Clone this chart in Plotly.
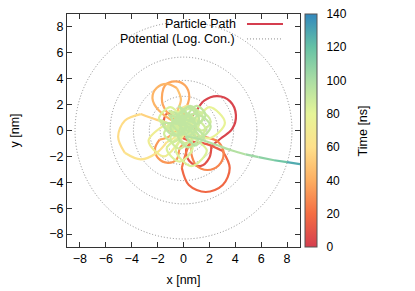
import plotly.graph_objects as go

# ---------------- data ----------------
palette = ["#D53E4F", "#F46D43", "#FDAE61", "#FEE08B",
           "#E6F598", "#ABDDA4", "#66C2A5", "#3288BD"]
t_min, t_max = 0, 140
colorbar_ticks = [0, 20, 40, 60, 80, 100, 120, 140]
axis_ticks = [-8, -6, -4, -2, 0, 2, 4, 6, 8]
contour_r = [1.8, 2.64, 3.87, 5.67, 8.38]

path_x = [
    0.2, 0.9, 1.6, 2.6, 3.6, 4.05, 3.75, 2.9, 2.15, 2.0, 1.3, 0.45, 0.2, 0.6,
    0.3, -0.5, -1.3, -1.5,
    -0.9, 0.5, 1.8, 3.03, 3.57, 3.03, 1.72, 0.41, -0.13, 0.2, 0.7,
    0.9, 0.2, -0.6, -0.3,
    0.8, 1.85, 2.73, 3.1, 2.73, 1.85, 0.97, 0.6, 0.5,
    -0.25, -0.5, -1.2, -1.95, -2.2, -1.85, -1.1,
    -0.3, -1.2, -1.65, -1.43, -0.65, 0.13, 0.45, 0.1, -0.3,
    -1.9, -2.4, -2.08, -1.3, -0.52, -0.2, -0.5, -0.4,
    -0.9, -2.06, -3.3, -4.54, -5.05, -4.54, -3.3, -2.06, -1.3, -0.5,
    -0.6, 0.3, 1.2, 0.3,
    -0.3, -1.5, -2.7, -1.5, -0.4,
    0.8, 2.0, 3.2, 2.0, 0.9,
    0.6, 1.8, 0.6, -0.6, -0.2,
    -1.0, -1.9, -1.0, -0.1, 0.2,
    0.7, -0.3, -1.3, -0.3,
    0.5, 1.2, 0.5, -0.2,
    -0.5, 0.2, -0.5, -1.2,
    0.2, 0.9, 0.2, -0.5,
    1.0, 1.7, 1.0, 0.3,
    -0.2, 0.5, -0.2, -0.9,
    0.8, 1.5, 0.8, 0.1,
    -0.8, -0.1, -0.8, -1.5,
    1.4, 2.1, 1.4, 0.7,
    -1.1, -0.4, -1.1, -1.8,
    -0.3, 0.4, -0.3, -1.0,
    0.0, 0.9, 0.0, -0.9,
    0.4, 1.0, 0.4, -0.2,
    -0.4, 0.2, -0.4, -1.0,
    0.5, 1.1, 0.5, -0.1,
    0.3, 1.2, 0.3, -0.6,
    1.2, 2.1, 1.2, 0.3,
    -0.7, 0.2, -0.7, -1.6,
    0.4, 1.2, 0.4, -0.4,
    1.0, 1.7, 1.0, 0.3,
    -0.4, 0.3, -0.4, -1.1,
    0.9, 1.6, 0.9, 0.2,
    1.5, 2.5, 3.75, 4.8, 5.8, 7.0, 8.0, 9.0, 10.0,
]
path_y = [
    0.6, 1.4, 2.3, 2.65, 2.25, 1.2, 0.1, -0.6, -1.2, -2.1, -2.75, -2.35, -1.5, -0.7,
    0.3, 1.1, 1.3, 0.5,
    -0.1, -0.8, -1.05, -1.59, -2.9, -4.21, -4.75, -4.21, -2.9, -1.7, -0.5,
    0.5, 1.2, 0.6, -0.3,
    -0.5, -0.55, -0.92, -1.8, -2.68, -3.05, -2.68, -1.8, -0.9,
    -1.3, -2.2, -2.5, -2.15, -1.4, -0.7, -0.45,
    0.4, 1.3, 2.2, 3.48, 3.8, 3.48, 2.6, 1.5, 0.6,
    1.55, 2.5, 3.28, 3.6, 3.28, 2.4, 1.3, 0.4,
    0.5, 0.82, 1.27, 0.76, -0.48, -1.72, -2.23, -1.72, -0.9, -0.3,
    1.0, 1.9, 1.0, 0.1,
    -0.8, -2.0, -0.8, 0.4, 0.0,
    0.6, 1.8, 0.6, -0.6, -0.2,
    -0.35, -1.55, -2.75, -1.55, -0.5,
    0.0, 0.9, 1.8, 0.9, 0.2,
    -1.4, -2.4, -1.4, -0.4,
    1.2, 0.5, -0.2, 0.5,
    1.1, 0.4, -0.3, 0.4,
    0.4, -0.3, -1.0, -0.3,
    0.8, 0.1, -0.6, 0.1,
    1.6, 0.9, 0.2, 0.9,
    1.7, 1.0, 0.3, 1.0,
    0.5, -0.2, -0.9, -0.2,
    1.4, 0.7, 0.0, 0.7,
    1.5, 0.8, 0.1, 0.8,
    0.0, -0.7, -1.4, -0.7,
    1.5, 0.6, -0.3, 0.6,
    0.8, 0.2, -0.4, 0.2,
    0.8, 0.2, -0.4, 0.2,
    1.9, 1.3, 0.7, 1.3,
    1.8, 0.9, 0.0, 0.9,
    1.2, 0.3, -0.6, 0.3,
    1.4, 0.5, -0.4, 0.5,
    0.3, -0.5, -1.3, -0.5,
    1.9, 1.2, 0.5, 1.2,
    1.9, 1.2, 0.5, 1.2,
    0.2, -0.5, -1.2, -0.5,
    -0.75, -1.1, -1.55, -1.85, -2.06, -2.3, -2.45, -2.6, -2.72,
]
path_t = [
    0, 0.7, 1.4, 2.1, 2.8, 3.5, 4.2, 4.9, 5.6, 6.3, 7.0, 7.7, 8.4, 9.1,
    9.8, 10.5, 11.2, 11.9,
    12.6, 13.4, 14.2, 15.0, 16.0, 17.0, 18.0, 19.0, 20.0, 21.0, 22.0,
    22.6, 23.2, 23.8, 24.4,
    25, 25.8, 26.6, 27.4, 28.2, 29, 29.8, 30.6, 31.4,
    32, 32.6, 33.2, 33.8, 34.4, 35, 35.6,
    36.2, 36.8, 37.4, 38, 38.6, 39.2, 39.8, 40.4, 41,
    41.8, 42.6, 43.4, 44.2, 45, 45.8, 46.6, 47.4,
    53, 54.5, 56, 57.5, 59, 60.5, 62, 63.5, 65, 66.5,
    68, 69, 70, 71,
    72.5, 73.5, 74.5, 75.5, 76.5,
    77.3, 78.1, 78.9, 79.7, 80.5,
    81, 81.5, 82, 82.5, 83,
    83.3, 83.6, 83.9, 84.2, 84.5,
    84.6, 84.7, 84.8, 84.9,
    85.0, 85.1, 85.2, 85.3,
    85.5, 85.6, 85.7, 85.8,
    86.0, 86.1, 86.2, 86.3,
    86.5, 86.6, 86.7, 86.8,
    87.0, 87.1, 87.2, 87.3,
    87.5, 87.6, 87.7, 87.8,
    88.0, 88.1, 88.2, 88.3,
    88.5, 88.6, 88.7, 88.8,
    89.0, 89.1, 89.2, 89.3,
    89.5, 89.6, 89.7, 89.8,
    90.0, 90.1, 90.2, 90.3,
    90.5, 90.6, 90.7, 90.8,
    91.0, 91.1, 91.2, 91.3,
    91.5, 91.6, 91.7, 91.8,
    92.4, 92.5, 92.6, 92.7,
    92.8, 92.9, 93.0, 93.1,
    93.2, 93.3, 93.4, 93.5,
    93.6, 93.7, 93.8, 93.9,
    94.0, 94.1, 94.2, 94.3,
    94.4, 94.5, 94.6, 94.7,
    94.8, 94.9, 95.0, 95.1,
    96, 97.5, 99, 102, 106, 112, 122, 134, 140,
]

# ---------------- helpers ----------------
def hex_to_rgb(h):
    h = h.lstrip("#")
    return tuple(int(h[i:i + 2], 16) for i in (0, 2, 4))


def color_at(t):
    f = (t - t_min) / (t_max - t_min)
    f = min(max(f, 0.0), 1.0)
    pos = f * (len(palette) - 1)
    i = min(int(pos), len(palette) - 2)
    w = pos - i
    a, b = hex_to_rgb(palette[i]), hex_to_rgb(palette[i + 1])
    c = [round(a[k] + (b[k] - a[k]) * w) for k in range(3)]
    return "rgb(%d,%d,%d)" % tuple(c)


FONT = "Liberation Sans, Arial, sans-serif"
fig = go.Figure()

# split the path into short pieces so that each piece gets its time colour
bin_w = 5.0
groups = []
cur = [0]
for i in range(1, len(path_t)):
    if int(path_t[i] // bin_w) != int(path_t[cur[0]] // bin_w):
        groups.append(cur)
        cur = [i]
    else:
        cur.append(i)
groups.append(cur)

for gi, g in enumerate(groups):
    idx = list(g)
    if gi + 1 < len(groups):
        idx.append(groups[gi + 1][0])
    if len(idx) < 2:
        continue
    tm = sum(path_t[k] for k in idx) / len(idx)
    fig.add_trace(go.Scatter(
        x=[path_x[k] for k in idx], y=[path_y[k] for k in idx],
        mode="lines", line=dict(color=color_at(tm), width=2.2,
                                shape="spline", smoothing=1.0),
        showlegend=False, hoverinfo="skip"))

# invisible trace carrying the colour bar
plot_w = 233.0            # plot area size in px
cb_x0 = 1.0215            # colour bar left edge (paper units)
cb_w = 12.0               # colour bar thickness in px
colorscale = [[i / (len(palette) - 1), c] for i, c in enumerate(palette)]
fig.add_trace(go.Scatter(
    x=path_x, y=path_y, mode="markers", showlegend=False, hoverinfo="skip",
    marker=dict(size=1, opacity=0, color=path_t, colorscale=colorscale,
                cmin=t_min, cmax=t_max, showscale=True,
                colorbar=dict(
                    thickness=cb_w, thicknessmode="pixels",
                    len=1, lenmode="fraction", y=0.5, yanchor="middle",
                    x=cb_x0, xanchor="left", xpad=0, ypad=0,
                    outlinewidth=1, outlinecolor="#555",
                    tickvals=colorbar_ticks, ticks="outside", ticklen=7,
                    tickcolor="rgba(0,0,0,0)", ticklabeloverflow="allow",
                    tickfont=dict(size=12, color="#000", family=FONT)))))

shapes = []
# gnuplot-like inner tick marks on both sides of the colour bar
for v in colorbar_ticks[1:-1]:
    yp = (v - t_min) / (t_max - t_min)
    for xa, xb in ((cb_x0, cb_x0 + 3 / plot_w),
                   (cb_x0 + (cb_w - 3) / plot_w, cb_x0 + cb_w / plot_w)):
        shapes.append(dict(type="line", xref="paper", yref="paper",
                           x0=xa, x1=xb, y0=yp, y1=yp,
                           line=dict(color="#555", width=1)))

# potential contours (log spaced)
for r in contour_r:
    shapes.append(dict(type="circle", xref="x", yref="y", x0=-r, y0=-r, x1=r, y1=r,
                       line=dict(color="#8c8c8c", width=1, dash="1px,2px"),
                       layer="below"))

# key (gnuplot style: text left, sample right)
shapes.append(dict(type="line", xref="paper", yref="paper",
                   x0=0.7725, x1=0.927, y0=0.957, y1=0.957,
                   line=dict(color=palette[0], width=2.2)))
shapes.append(dict(type="line", xref="paper", yref="paper",
                   x0=0.7725, x1=0.927, y0=0.893, y1=0.893,
                   line=dict(color="#8c8c8c", width=1, dash="1px,2px")))
annotations = [
    dict(text="Particle Path", xref="paper", yref="paper", x=0.734, y=0.957,
         xanchor="right", yanchor="middle", showarrow=False,
         font=dict(size=12.5, color="#000", family=FONT)),
    dict(text="Potential (Log. Con.)", xref="paper", yref="paper", x=0.730, y=0.893,
         xanchor="right", yanchor="middle", showarrow=False,
         font=dict(size=12.5, color="#000", family=FONT)),
    dict(text="Time [ns]", xref="paper", yref="paper", x=1.27, y=0.5,
         xanchor="center", yanchor="middle", textangle=-90, showarrow=False,
         font=dict(size=12.5, color="#000", family=FONT)),
]

axis_common = dict(range=[-9, 9], tickvals=axis_ticks, ticks="inside", ticklen=5,
                   tickcolor="#333", showline=True, linecolor="#333", linewidth=1,
                   mirror="ticks", showgrid=False, zeroline=False, fixedrange=True,
                   automargin=False,
                   tickfont=dict(size=12.5, color="#000", family=FONT))

# the page body adds an 8px offset, so the figure is drawn 8px smaller
fig.update_layout(
    width=407, height=283,
    margin=dict(l=59, r=115, t=6, b=44, autoexpand=False),
    paper_bgcolor="white", plot_bgcolor="white",
    font=dict(family=FONT, size=12.5, color="#000"),
    xaxis=dict(axis_common, title=dict(text="x [nm]", standoff=10,
                                       font=dict(size=12.5, family=FONT))),
    yaxis=dict(axis_common, title=dict(text="y [nm]", standoff=26,
                                       font=dict(size=12.5, family=FONT))),
    shapes=shapes, annotations=annotations, hovermode=False,
)

fig.write_html("out.html")
